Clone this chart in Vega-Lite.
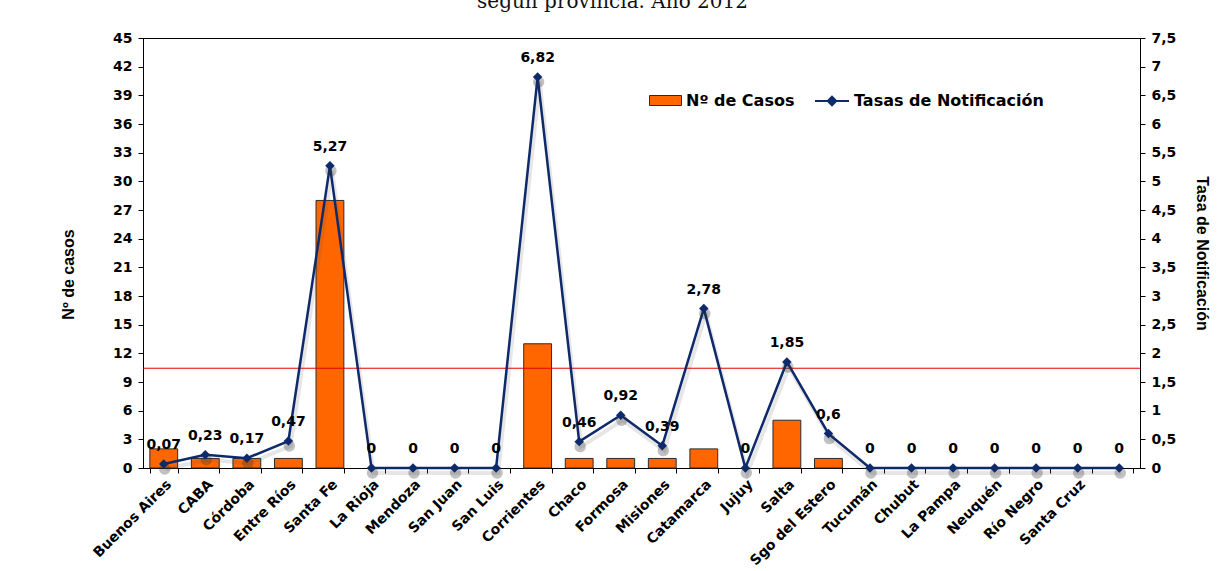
{
  "$schema": "https://vega.github.io/schema/vega-lite/v6.json",
  "autosize": "none",
  "width": 997,
  "height": 430,
  "padding": {"left": 143, "top": 38, "right": 78, "bottom": 103},
  "background": "white",
  "title": {
    "text": "según provincia. Año 2012",
    "font": "DejaVu Serif",
    "fontSize": 20,
    "fontWeight": "normal",
    "color": "#111111",
    "anchor": "middle",
    "dx": -29,
    "offset": 19
  },
  "config": {
    "locale": {"number": {"decimal": ",", "thousands": ".", "grouping": [3], "currency": ["$", ""]}},
    "view": {"stroke": "#000000", "strokeWidth": 1},
    "axis": {
      "grid": false,
      "domainColor": "#000000",
      "tickColor": "#000000",
      "labelColor": "#000000",
      "labelFont": "DejaVu Sans",
      "labelFontWeight": "bold",
      "labelFontSize": 14,
      "titleColor": "#000000",
      "titleFont": "Liberation Sans",
      "titleFontWeight": "bold",
      "titleFontSize": 16,
      "tickSize": 5
    }
  },
  "data": {
    "values": [
      {"provincia": "Buenos Aires", "casos": 2, "tasa": 0.07},
      {"provincia": "CABA", "casos": 1, "tasa": 0.23},
      {"provincia": "Córdoba", "casos": 1, "tasa": 0.17},
      {"provincia": "Entre Ríos", "casos": 1, "tasa": 0.47},
      {"provincia": "Santa Fe", "casos": 28, "tasa": 5.27},
      {"provincia": "La Rioja", "casos": 0, "tasa": 0},
      {"provincia": "Mendoza", "casos": 0, "tasa": 0},
      {"provincia": "San Juan", "casos": 0, "tasa": 0},
      {"provincia": "San Luis", "casos": 0, "tasa": 0},
      {"provincia": "Corrientes", "casos": 13, "tasa": 6.82},
      {"provincia": "Chaco", "casos": 1, "tasa": 0.46},
      {"provincia": "Formosa", "casos": 1, "tasa": 0.92},
      {"provincia": "Misiones", "casos": 1, "tasa": 0.39},
      {"provincia": "Catamarca", "casos": 2, "tasa": 2.78},
      {"provincia": "Jujuy", "casos": 0, "tasa": 0},
      {"provincia": "Salta", "casos": 5, "tasa": 1.85},
      {"provincia": "Sgo del Estero", "casos": 1, "tasa": 0.6},
      {"provincia": "Tucumán", "casos": 0, "tasa": 0},
      {"provincia": "Chubut", "casos": 0, "tasa": 0},
      {"provincia": "La Pampa", "casos": 0, "tasa": 0},
      {"provincia": "Neuquén", "casos": 0, "tasa": 0},
      {"provincia": "Río Negro", "casos": 0, "tasa": 0},
      {"provincia": "Santa Cruz", "casos": 0, "tasa": 0},
      {"provincia": " ", "casos": 0, "tasa": 0}
    ]
  },
  "layer": [
    {
      "mark": {"type": "bar", "stroke": "#2b2b2b", "strokeWidth": 1},
      "encoding": {
        "x": {
          "field": "provincia",
          "type": "nominal",
          "sort": null,
          "scale": {"paddingInner": 0.33, "paddingOuter": 0.165},
          "axis": {
            "title": null,
            "labelAngle": -45,
            "labelAlign": "right",
            "labelBaseline": "top",
            "labelPadding": 4,
            "tickBand": "extent",
            "labelBound": false
          }
        },
        "y": {
          "field": "casos",
          "type": "quantitative",
          "scale": {"domain": [0, 45], "nice": false},
          "axis": {
            "orient": "left",
            "values": [0, 3, 6, 9, 12, 15, 18, 21, 24, 27, 30, 33, 36, 39, 42, 45],
            "title": "Nº de casos",
            "titlePadding": 36,
            "titleY": 236,
            "labelPadding": 6
          }
        },
        "strokeOpacity": {"condition": {"test": "datum.casos > 0", "value": 1}, "value": 0},
        "fill": {
          "datum": "Nº de Casos",
          "scale": {"range": ["#FF6600"]},
          "legend": {
            "title": null,
            "orient": "none",
            "legendX": 506,
            "legendY": 46,
            "padding": 0,
            "symbolType": "M-1,-0.3125H1V0.3125H-1Z",
            "symbolSize": 1024,
            "symbolStrokeColor": "#2b2b2b",
            "symbolStrokeWidth": 1,
            "symbolOpacity": 1,
            "labelFont": "DejaVu Sans",
            "labelFontWeight": "bold",
            "labelFontSize": 16,
            "labelColor": "#000000",
            "labelOffset": 4,
            "labelLimit": 400
          }
        }
      }
    },
    {
      "layer": [
        {
          "data": {"values": [{"umbral": 1.74}]},
          "mark": {"type": "rule", "color": "#E00000", "strokeWidth": 1},
          "encoding": {
            "y": {"field": "umbral", "type": "quantitative"}
          }
        },
        {
          "mark": {"type": "line", "color": "#555555", "opacity": 0.15, "strokeWidth": 4, "xOffset": 2, "yOffset": 5},
          "encoding": {
            "x": {"field": "provincia", "type": "nominal", "sort": null},
            "y": {"field": "tasa", "type": "quantitative"}
          }
        },
        {
          "mark": {"type": "line", "strokeWidth": 2.5},
          "encoding": {
            "x": {"field": "provincia", "type": "nominal", "sort": null},
            "y": {"field": "tasa", "type": "quantitative"},
            "stroke": {
              "datum": "Tasas de Notificación",
              "scale": {"range": ["#0F2A6B"]},
              "legend": {
                "title": null,
                "orient": "none",
                "legendX": 671,
                "legendY": 45,
                "padding": 0,
                "symbolType": "M-1,0H1M0,-0.25L0.25,0L0,0.25L-0.25,0Z",
                "symbolSize": 1156,
                "symbolStrokeWidth": 2,
                "symbolFillColor": "#0F2A6B",
                "symbolStrokeColor": "#0F2A6B",
                "labelFont": "DejaVu Sans",
                "labelFontWeight": "bold",
                "labelFontSize": 16,
                "labelColor": "#000000",
                "labelOffset": 4,
                "labelLimit": 400,
                "encode": {"symbols": {"update": {"fill": {"value": "#0F2A6B"}, "stroke": {"value": "#0F2A6B"}}}}
              }
            }
          }
        },
        {
          "mark": {"type": "point", "shape": "circle", "filled": true, "color": "#333333", "opacity": 0.3, "size": 130, "xOffset": 1, "yOffset": 5},
          "encoding": {
            "x": {"field": "provincia", "type": "nominal", "sort": null},
            "y": {"field": "tasa", "type": "quantitative"}
          }
        },
        {
          "mark": {"type": "point", "shape": "diamond", "filled": true, "color": "#0F2A6B", "opacity": 1, "size": 90},
          "encoding": {
            "x": {"field": "provincia", "type": "nominal", "sort": null},
            "y": {"field": "tasa", "type": "quantitative"}
          }
        },
        {
          "mark": {"type": "text", "dy": -19, "font": "DejaVu Sans", "fontWeight": "bold", "fontSize": 14, "color": "#000000", "baseline": "middle", "align": "center"},
          "encoding": {
            "x": {"field": "provincia", "type": "nominal", "sort": null},
            "y": {"field": "tasa", "type": "quantitative"},
            "text": {"field": "tasa", "type": "quantitative", "format": ".2~f"}
          }
        }
      ],
      "encoding": {
        "y": {
          "field": "tasa",
          "type": "quantitative",
          "scale": {"domain": [0, 7.5], "nice": false},
          "axis": {
            "orient": "right",
            "values": [0, 0.5, 1, 1.5, 2, 2.5, 3, 3.5, 4, 4.5, 5, 5.5, 6, 6.5, 7, 7.5],
            "format": ".1~f",
            "title": "Tasa de Notificación",
            "titlePadding": 18,
            "labelPadding": 6
          }
        }
      }
    }
  ],
  "resolve": {"scale": {"y": "independent"}}
}
